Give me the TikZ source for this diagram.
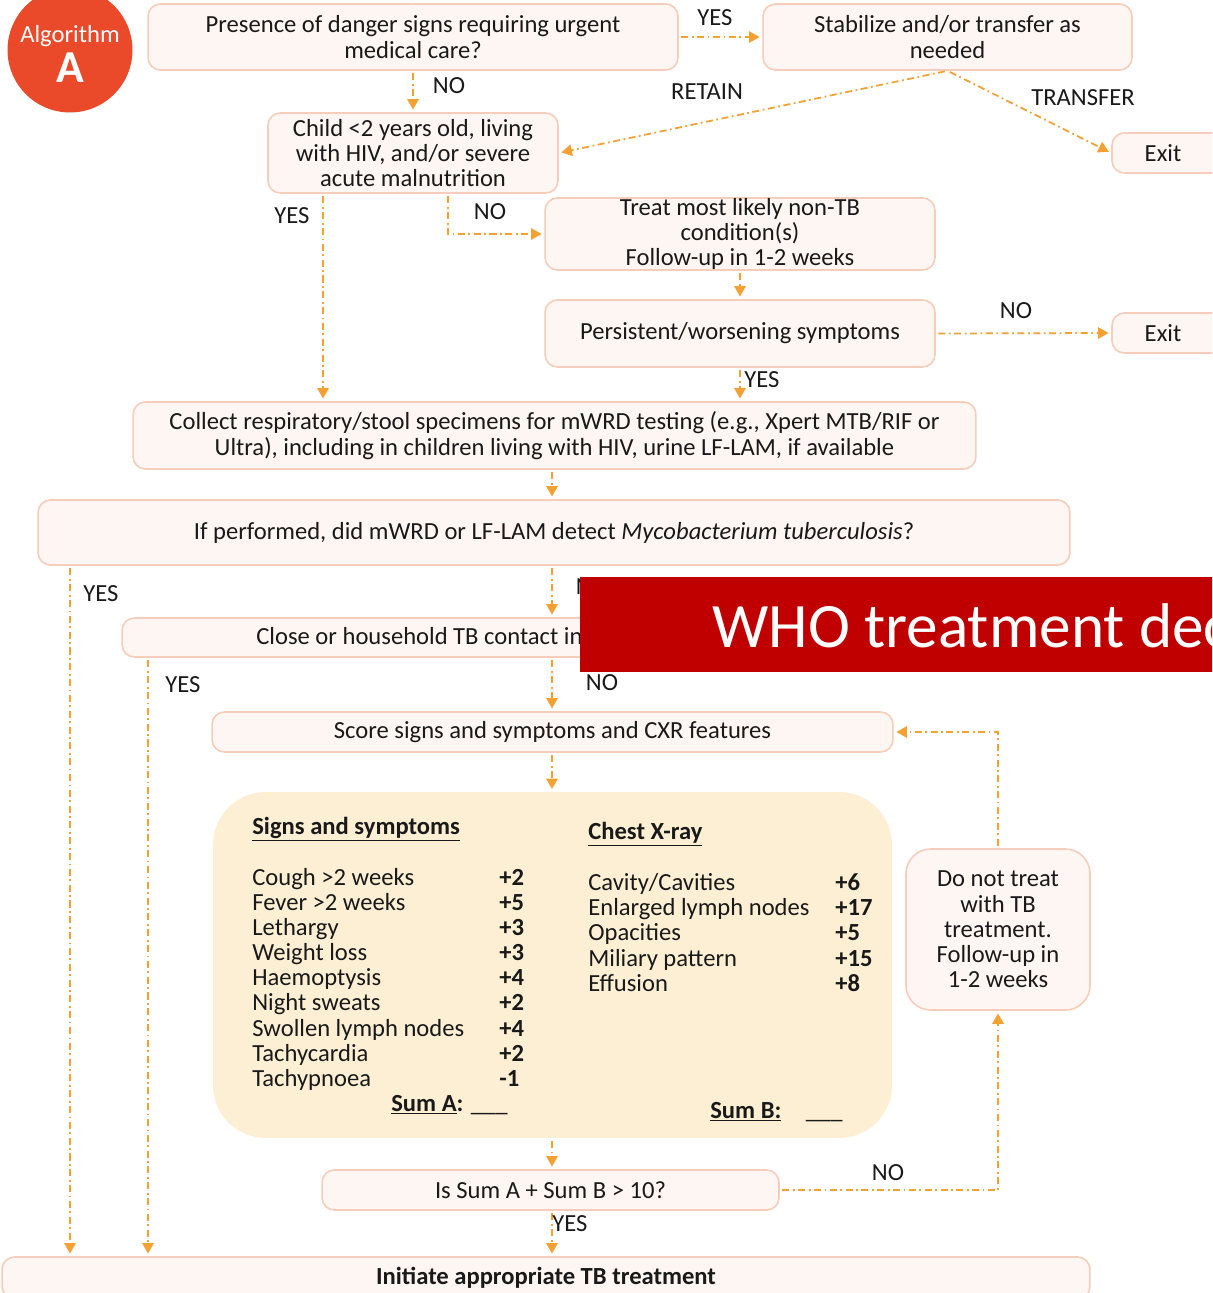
\documentclass[tikz,border=0pt]{standalone}
\usepackage{fontspec}
\setmainfont{Carlito}
\usetikzlibrary{arrows.meta}
\definecolor{arr}{RGB}{244,160,50}
\definecolor{boxfill}{RGB}{254,246,242}
\definecolor{boxline}{RGB}{246,204,186}
\definecolor{beige}{RGB}{253,239,212}
\definecolor{algo}{RGB}{234,74,42}
\definecolor{banner}{RGB}{192,0,0}
\definecolor{txt}{RGB}{25,25,25}
\begin{document}
\begin{tikzpicture}[x=0.02cm,y=-0.02cm,
  every node/.style={font=\fontsize{14}{14.4}\selectfont, text=txt},
  box/.style={draw=boxline, fill=boxfill, line width=0.9pt, rounded corners=7pt, align=center, inner sep=0pt},
  conn/.style={draw=arr, line width=1pt, dash pattern=on 4pt off 2pt on 1pt off 2pt, shorten <=1.5pt, shorten >=1.5pt, -{Triangle[length=6pt,width=6.5pt]}},
  lbl/.style={inner sep=0pt},
  item/.style={inner sep=0pt, anchor=west, text height=10pt, text depth=3pt},
  val/.style={item, font=\fontsize{14}{14.4}\selectfont\bfseries}]
\useasboundingbox (0,0) rectangle (1212,1293);
\clip (0,0) rectangle (1212,1293);
\fill[white] (0,0) rectangle (1212,1293);

% algorithm badge
\node[circle, fill=algo, minimum size=2.5cm, inner sep=0pt] (algo) at (70,50) {};
\node[lbl, text=white] (algotitle) at (70,36) {Algorithm};
\node[lbl, text=white, font=\fontsize{26}{26}\selectfont\bfseries] (algoA) at (70,68) {A};

% boxes
\node[box, minimum width=10.6cm, minimum height=1.32cm] (danger) at (413,37) {Presence of danger signs requiring urgent\\medical care?};
\node[box, minimum width=7.38cm, minimum height=1.32cm] (stab) at (947.5,37) {Stabilize and/or transfer as\\needed};
\node[box, minimum width=2.5cm, minimum height=0.8cm] (exit1) at (1174.5,153) {};
\node[lbl] (exit1text) at (1163,153) {Exit};
\node[box, minimum width=5.8cm, minimum height=1.6cm] (child) at (413,153) {Child <2 years old, living\\with HIV, and/or severe\\acute malnutrition};
\node[box, minimum width=7.8cm, minimum height=1.44cm] (treat) at (740,234) {Treat most likely non-TB\\condition(s)\\Follow-up in 1-2 weeks};
\node[box, minimum width=7.8cm, minimum height=1.34cm] (persist) at (740,333.5) {Persistent/worsening symptoms};
\node[box, minimum width=2.5cm, minimum height=0.8cm] (exit2) at (1174.5,333) {};
\node[lbl] (exit2text) at (1163,333) {Exit};
\node[box, minimum width=16.86cm, minimum height=1.34cm] (collect) at (554.5,435.5) {Collect respiratory/stool specimens for mWRD testing (e.g., Xpert MTB/RIF or\\Ultra), including in children living with HIV, urine LF-LAM, if available};
\node[box, minimum width=20.64cm, minimum height=1.3cm] (ifperf) at (554,532.5) {If performed, did mWRD or LF-LAM detect \textit{Mycobacterium tuberculosis}?};
\node[box, minimum width=17.26cm, minimum height=0.78cm] (close) at (553.5,637.5) {};
\node[item] (closetext) at (256,638) {Close or household TB contact in};
\node[box, minimum width=13.62cm, minimum height=0.8cm] (score) at (552.5,732) {Score signs and symptoms and CXR features};
\node[fill=beige, rounded corners=30pt, minimum width=13.58cm, minimum height=6.92cm, inner sep=0pt] (big) at (552.5,965) {};
\node[box, rounded corners=14pt, minimum width=3.68cm, minimum height=3.22cm] (donot) at (998,929.5) {Do not treat\\with TB\\treatment.\\Follow-up in\\1-2 weeks};
\node[box, minimum width=9.14cm, minimum height=0.8cm] (issum) at (550.5,1190) {Is Sum A + Sum B > 10?};
\node[box, minimum width=21.76cm, minimum height=0.84cm] (init) at (546,1278) {\textbf{Initiate appropriate TB treatment}};

% score table
\node[item, font=\fontsize{14}{14.4}\selectfont\bfseries] (sstitle) at (252,828) {\underline{Signs and symptoms}};
\node[item, font=\fontsize{14}{14.4}\selectfont\bfseries] (cxtitle) at (588,833) {\underline{Chest X-ray}};
\foreach [count=\i] \t/\v/\yy in {Cough >2 weeks/+2/879, Fever >2 weeks/+5/904, Lethargy/+3/929, Weight loss/+3/954, Haemoptysis/+4/979, Night sweats/+2/1004, Swollen lymph nodes/+4/1030, Tachycardia/+2/1055, Tachypnoea/-1/1080} {
  \node[item] (sl\i) at (252,\yy) {\t};
  \node[val] (sv\i) at (499,\yy) {\v};
}
\foreach [count=\i] \t/\v/\yy in {{Cavity/Cavities}/+6/884, Enlarged lymph nodes/+17/909, Opacities/+5/934, Miliary pattern/+15/960, Effusion/+8/985} {
  \node[item] (cl\i) at (588,\yy) {\t};
  \node[val] (cv\i) at (835,\yy) {\v};
}
\node[item] (suma) at (391,1105) {\textbf{\underline{Sum A}:} \_\_\_};
\node[item] (sumb) at (710,1112) {\textbf{\underline{Sum B:}}\hspace{14pt}\_\_\_};

% connectors
\coordinate (topin) at (413,-30);
\coordinate (xA) at (323,0);
\coordinate (xB) at (448,0);
\coordinate (xC) at (552,0);
\coordinate (xD) at (70,0);
\coordinate (xE) at (148,0);
\draw[conn] (topin) -- (danger.north);
\draw[conn] (danger.east) -- (stab.west);
\draw[conn] (danger.south) -- (child.north);
\draw[conn] (stab.south) -- (child.east);
\draw[conn] (stab.south) -- (exit1.west);
\draw[conn] (xA |- child.south) -- (xA |- collect.north);
\draw[conn] (xB |- child.south) |- (treat.west);
\draw[conn] (treat.south) -- (persist.north);
\draw[conn] (persist.east) -- (exit2.west);
\draw[conn] (persist.south) -- (persist.south |- collect.north);
\draw[conn] (xC |- collect.south) -- (xC |- ifperf.north);
\draw[conn] (xD |- ifperf.south) -- (xD |- init.north);
\draw[conn] (xC |- ifperf.south) -- (xC |- close.north);
\draw[conn] (xE |- close.south) -- (xE |- init.north);
\draw[conn] (xC |- close.south) -- (xC |- score.north);
\draw[conn] (xC |- score.south) -- (xC |- big.north);
\draw[conn] (xC |- big.south) -- (xC |- issum.north);
\draw[conn] (xC |- issum.south) -- (xC |- init.north);
\draw[conn] (issum.east) -| (donot.south);
\draw[conn] (donot.north) |- (score.east);

% labels
\node[lbl] (l1) at (715,18) {YES};
\node[lbl] (l2) at (449,86) {NO};
\node[lbl] (l3) at (707,92) {RETAIN};
\node[lbl] (l4) at (1083,98) {TRANSFER};
\node[lbl] (l5) at (292,216) {YES};
\node[lbl] (l6) at (490,212) {NO};
\node[lbl] (l7) at (1016,311) {NO};
\node[lbl] (l8) at (762,380) {YES};
\node[lbl] (l9) at (101,594) {YES};
\node[lbl] (l10) at (592,587) {NO};
\node[lbl] (l11) at (183,685) {YES};
\node[lbl] (l12) at (602,683) {NO};
\node[lbl] (l13) at (570,1224) {YES};
\node[lbl] (l14) at (888,1173) {NO};

% banner
\node[fill=banner, minimum width=13cm, minimum height=1.9cm, inner sep=0pt, anchor=north west] (banner) at (580,577) {};
\node[inner sep=0pt, anchor=west, text=white, font=\fontsize{36}{36}\selectfont] (bannertext) at (712,626) {WHO treatment decision};
\end{tikzpicture}
\end{document}
